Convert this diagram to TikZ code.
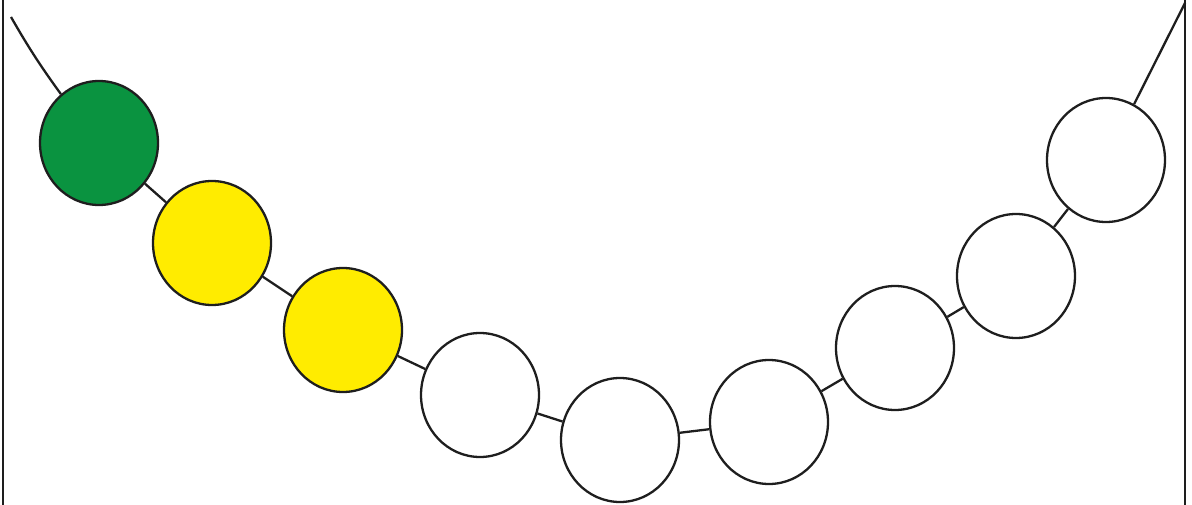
\documentclass[tikz,border=0pt]{standalone}
\usetikzlibrary{shapes.geometric}
\definecolor{beadgreen}{RGB}{10,147,64}
\definecolor{beadyellow}{RGB}{255,236,0}
\definecolor{edge}{RGB}{30,30,30}
\begin{document}
\begin{tikzpicture}[x=1pt,y=-1pt,
  bead/.style={ellipse,draw=edge,line width=2.3pt,minimum width=118pt,minimum height=124pt,inner sep=0pt,fill=white},
  string/.style={draw=edge,line width=2.3pt},
  frame/.style={draw=edge,line width=2.2pt}]
\useasboundingbox (0,0) rectangle (1192,505);
\coordinate (ftl) at (3,0);
\coordinate (fbl) at (3,505);
\coordinate (ftr) at (1185,0);
\coordinate (fbr) at (1185,505);
\draw[frame] (ftl) -- (fbl);
\draw[frame] (ftr) -- (fbr);
\coordinate (s) at (11,17);
\coordinate (e) at (1185,3);
\node[bead,fill=beadgreen] (b1) at (99,143) {};
\node[bead,fill=beadyellow] (b2) at (212,243) {};
\node[bead,fill=beadyellow] (b3) at (343,330) {};
\node[bead] (b4) at (480,395) {};
\node[bead] (b5) at (620,440) {};
\node[bead] (b6) at (769,422) {};
\node[bead] (b7) at (895,348) {};
\node[bead] (b8) at (1016,276) {};
\node[bead] (b9) at (1106,160) {};
\draw[string] (s) to[bend right=3] (b1);
\draw[string] (b1) -- (b2);
\draw[string] (b2) -- (b3);
\draw[string] (b3) -- (b4);
\draw[string] (b4) -- (b5);
\draw[string] (b5) -- (b6);
\draw[string] (b6) -- (b7);
\draw[string] (b7) -- (b8);
\draw[string] (b8) -- (b9);
\draw[string] (b9) -- (e);
\end{tikzpicture}
\end{document}
